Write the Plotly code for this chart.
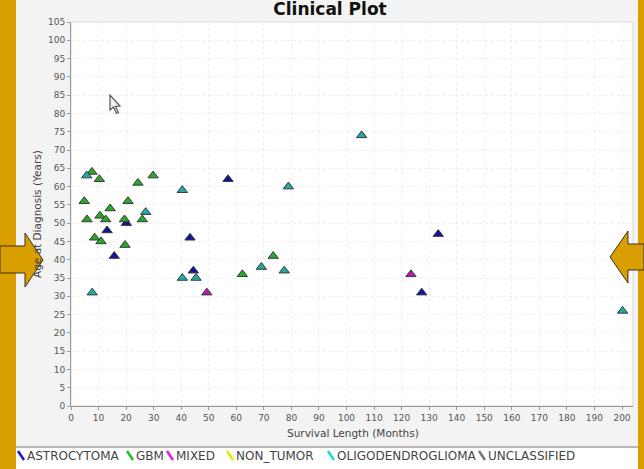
import plotly.graph_objects as go

# ---- data ----
astro_x = [20.1, 13.1, 15.7, 57.0, 43.2, 44.4, 133.3, 127.3]
astro_y = [50, 48, 41, 62, 46, 37, 47, 31]

gbm_x = [7.6, 10.3, 24.3, 29.8, 4.8, 20.7, 14.2, 10.5, 5.8, 12.6, 19.4, 25.9, 8.6, 10.9, 19.6, 73.4, 62.2]
gbm_y = [64, 62, 61, 63, 56, 56, 54, 52, 51, 51, 51, 51, 46, 45, 44, 41, 36]

mixed_x = [49.3, 123.4]
mixed_y = [31, 36]

oligo_x = [5.7, 27.1, 7.7, 40.4, 78.9, 69.1, 77.4, 40.4, 45.4, 105.5, 200.2]
oligo_y = [63, 53, 31, 59, 60, 38, 37, 35, 35, 74, 26]

legend_names = ["ASTROCYTOMA", "GBM", "MIXED", "NON_TUMOR", "OLIGODENDROGLIOMA", "UNCLASSIFIED"]
legend_colors = ["#1a1ad0", "#22c022", "#e020e0", "#e8e800", "#20d8d8", "#777777"]

x_ticks = list(range(0, 201, 10))
y_ticks = list(range(0, 106, 5))

# ---- layout geometry (pixels) ----
W, H = 644, 469
L, R, T, B = 71, 633, 22, 406


def px(x):
    return (x - L) / (R - L)


def py(y):
    return (B - y) / (B - T)


def path(points):
    s = "M " + " L ".join(f"{px(a):.5f},{py(b):.5f}" for a, b in points) + " Z"
    return s


FONT = "DejaVu Sans"

fig = go.Figure()

series = [
    ("ASTROCYTOMA", astro_x, astro_y, "#14149a"),
    ("GBM", gbm_x, gbm_y, "#28a828"),
    ("MIXED", mixed_x, mixed_y, "#b01cb0"),
    ("OLIGODENDROGLIOMA", oligo_x, oligo_y, "#22a8a8"),
]
for name, xs, ys, col in series:
    fig.add_trace(go.Scatter(
        x=xs, y=ys, mode="markers", name=name, showlegend=False,
        marker=dict(symbol="triangle-up", size=9, color=col,
                    line=dict(color="#3a3a3a", width=1)),
    ))

shapes = []
# plot frame
shapes.append(dict(type="rect", xref="paper", yref="paper", x0=0, x1=1, y0=0, y1=1,
                   line=dict(color="#d8d8d8", width=1), layer="below"))
# legend band
shapes.append(dict(type="rect", xref="paper", yref="paper", x0=px(16), x1=px(638),
                   y0=py(469), y1=py(447), fillcolor="white", line=dict(width=0), layer="below"))
shapes.append(dict(type="line", xref="paper", yref="paper", x0=px(16), x1=px(638),
                   y0=py(447), y1=py(447), line=dict(color="#a0a0a0", width=1.5)))
# legend symbols
sym_x = [18, 127, 167, 227, 328, 479]
for sx, col in zip(sym_x, legend_colors):
    shapes.append(dict(type="line", xref="paper", yref="paper", x0=px(sx), x1=px(sx + 6),
                       y0=py(451), y1=py(460), line=dict(color=col, width=2.5)))
# orange side strips
OR = "#d99f00"
shapes.append(dict(type="rect", xref="paper", yref="paper", x0=px(0), x1=px(16),
                   y0=py(H), y1=py(0), fillcolor=OR, line=dict(width=0)))
shapes.append(dict(type="rect", xref="paper", yref="paper", x0=px(638), x1=px(W),
                   y0=py(H), y1=py(0), fillcolor=OR, line=dict(width=0)))
# arrows
shapes.append(dict(type="path", xref="paper", yref="paper",
                   path=path([(0, 246), (25, 246), (25, 233), (43, 260), (25, 287), (25, 273), (0, 273)]),
                   fillcolor=OR, line=dict(color="#3a3020", width=1)))
shapes.append(dict(type="path", xref="paper", yref="paper",
                   path=path([(644, 244), (628, 244), (628, 231), (610, 257), (628, 283), (628, 270), (644, 270)]),
                   fillcolor=OR, line=dict(color="#3a3020", width=1)))
# mouse cursor
shapes.append(dict(type="path", xref="paper", yref="paper",
                   path=path([(110, 95), (110, 110), (113.5, 107), (116.5, 113.5), (118.5, 112.5),
                              (115.5, 106.5), (120, 106)]),
                   fillcolor="#f0f0f0", line=dict(color="#555555", width=1.2)))

annotations = []
# axis titles
annotations.append(dict(text="Survival Length (Months)", xref="paper", yref="paper",
                        x=px(353), y=py(433), showarrow=False, xanchor="center", yanchor="middle",
                        font=dict(family=FONT, size=10.5, color="#444444")))
annotations.append(dict(text="Age at Diagnosis (Years)", xref="paper", yref="paper",
                        x=px(37), y=py(214), showarrow=False, xanchor="center", yanchor="middle",
                        textangle=-90, font=dict(family=FONT, size=10.5, color="#444444")))
# legend texts
for sx, name in zip(sym_x, legend_names):
    annotations.append(dict(text=name, xref="paper", yref="paper", x=px(sx + 7), y=py(456),
                            showarrow=False, xanchor="left", yanchor="middle",
                            font=dict(family=FONT, size=12, color="#444444")))

fig.update_layout(
    width=W, height=H,
    margin=dict(l=L, r=W - R, t=T, b=H - B, pad=0),
    paper_bgcolor="#f3f3f3",
    plot_bgcolor="white",
    title=dict(text="<b>Clinical Plot</b>", x=330 / W, xref="container", xanchor="center",
               y=1 - 9.5 / H, yref="container", yanchor="middle",
               font=dict(family=FONT, size=17, color="#111111")),
    showlegend=False,
    shapes=shapes,
    annotations=annotations,
    xaxis=dict(range=[0, (R - L) / 2.755], tickvals=x_ticks, ticktext=[str(v) for v in x_ticks],
               showgrid=True, gridcolor="#eeeeee", griddash="dot", zeroline=False,
               showline=True, linecolor="#999999", linewidth=1,
               ticks="outside", ticklen=3, tickcolor="#999999",
               tickfont=dict(family=FONT, size=9, color="#555555")),
    yaxis=dict(range=[0, 105], tickvals=y_ticks, ticktext=[str(v) for v in y_ticks],
               showgrid=True, gridcolor="#eeeeee", griddash="dot", zeroline=False,
               showline=True, linecolor="#999999", linewidth=1,
               ticks="outside", ticklen=3, tickcolor="#999999",
               tickfont=dict(family=FONT, size=9, color="#555555")),
)

fig.write_html("out.html", config={"displayModeBar": False},
               post_script="document.body.style.margin='0';document.body.style.overflow='hidden';")
